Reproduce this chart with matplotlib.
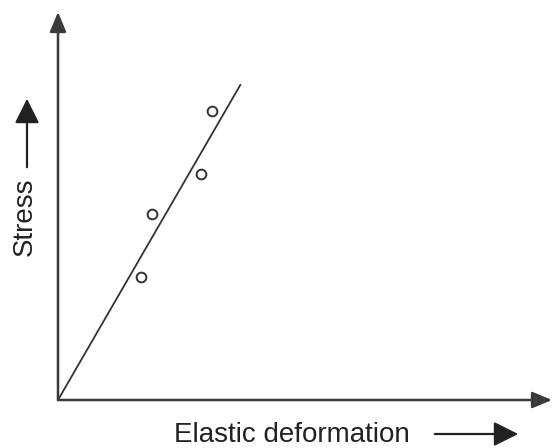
import matplotlib
matplotlib.use("Agg")
import matplotlib.pyplot as plt
from matplotlib.patches import FancyArrowPatch

# measured points (arbitrary units)
deformation = [1.68, 1.90, 2.89, 3.12]
stress = [3.17, 4.79, 5.82, 7.45]

# fitted line through origin
fit_x = [0.0, 3.70]
fit_y = [0.0, 8.14]

W, H = 552, 448
fig = plt.figure(figsize=(W / 100, H / 100), dpi=100)
plt.rcParams['font.family'] = ['Liberation Sans', 'DejaVu Sans']

# axes: origin at pixel (58, 400), top at y=12, right edge at x=552
ax = fig.add_axes([58 / W, 48 / H, (W - 58) / W, 388 / H])
ax.set_xlim(0, 10)
ax.set_ylim(0, 10)
ax.axis('off')

ax.plot(fit_x, fit_y, color='#333333', lw=1.3, solid_capstyle='butt')
ax.plot(deformation, stress, 'o', ms=7, mfc='white', mec='#333333', mew=1.4)

axis_col = '#3a3a3a'
arrow = dict(arrowstyle='-|>,head_length=1.2,head_width=0.5', color=axis_col,
             lw=1.8, shrinkA=0, shrinkB=0)
# axis arrows
ax.annotate('', xy=(0, 1), xytext=(0, 0), xycoords='axes fraction',
            textcoords='axes fraction', arrowprops=arrow)
ax.annotate('', xy=(1, 0), xytext=(0, 0), xycoords='axes fraction',
            textcoords='axes fraction', arrowprops=arrow)

# axis labels with their own arrows
fig.text(292 / W, 1 - 435 / H, 'Elastic deformation', ha='center', va='center',
         fontsize=20, color='#222222')
fig.text(25 / W, 1 - 217 / H, 'Stress', ha='center', va='center',
         rotation=90, fontsize=20, color='#222222')
style = '-|>,head_length=1.0,head_width=0.5'
fig.add_artist(FancyArrowPatch(
    (432 / W, 1 - 434 / H), (521 / W, 1 - 434 / H), transform=fig.transFigure,
    arrowstyle=style, color='#222222', lw=1.6, mutation_scale=15))
fig.add_artist(FancyArrowPatch(
    (27 / W, 1 - 170 / H), (27 / W, 1 - 96 / H), transform=fig.transFigure,
    arrowstyle=style, color='#222222', lw=1.6, mutation_scale=15))

fig.savefig('out.png', dpi=100)
